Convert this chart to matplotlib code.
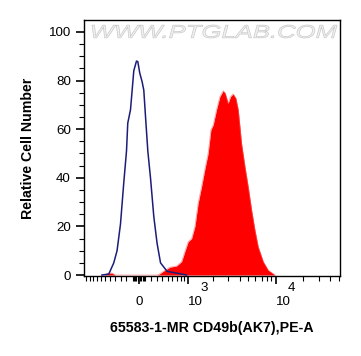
import numpy as np
import matplotlib
matplotlib.use('Agg')
import matplotlib.pyplot as plt
from matplotlib.textpath import TextPath
from matplotlib.patches import PathPatch
from matplotlib.font_manager import FontProperties
from matplotlib.transforms import Affine2D, IdentityTransform

plt.rcParams['font.family'] = 'Liberation Sans'

# Isotype control (blue outline), PE-A intensity vs relative count
ctrl_x = [-676, -525, -426, -364, -302, -245, -199, -178, -133, -80, -37, -16,
          16, 53, 80, 108, 145, 189, 245, 302, 364, 491, 697, 959]
ctrl_y = [0, 0.4, 5, 10, 21, 38, 51, 62.5, 68, 84, 88, 87.8,
          83, 79.5, 76, 65, 51, 40, 24, 13, 5, 1.5, 0.8, 0]

# CD49b stained sample (red filled)
stain_x = [-620, -540, -460, -400, 302, 351, 413, 547, 697, 823, 911, 1008, 1115,
           1227, 1342, 1470, 1605, 1764, 1900, 2018, 2205, 2410, 2626, 2765,
           2986, 3175, 3396, 3641, 3868, 4215, 4593, 4990, 5443, 5922, 6439,
           7321, 8303, 9847]
stain_y = [0, 0.8, 0.8, 0, 0, 0.5, 1.5, 3.2, 3.7, 5.5, 9.6, 13.7, 15,
           20, 29.5, 36, 43, 50, 59.7, 61.7, 68, 73.4, 75.8, 74.8,
           70.6, 73.4, 74.5, 72.7, 68, 54, 44.6, 36.3, 26.7, 18.5, 11.6,
           5.5, 2, 0]

xtick_vals = [0, 1000, 10000]
xtick_labels = ['0', '10', '10']
xtick_exps = ['', '3', '4']

W = 630.0


def fwd(x):
    return np.arcsinh(np.asarray(x, dtype=float) / W)


def inv(u):
    return W * np.sinh(np.asarray(u, dtype=float))


fig = plt.figure(figsize=(3.61, 3.56), dpi=100)
ax = fig.add_axes([84 / 361, 80 / 356, 256 / 361, 256 / 356])
ax.set_xscale('function', functions=(fwd, inv))

ax.fill_between(stain_x, stain_y, 0, color='#ff0000', linewidth=0, zorder=2)
ax.plot(stain_x, stain_y, color='#ff6060', linewidth=0.6, alpha=0.6, zorder=2)
ax.plot(ctrl_x, ctrl_y, color='#1c1c7a', linewidth=1.1, zorder=3)

ax.set_xlim(-1180, 51000)
ax.set_ylim(-0.4, 104.9)

# ticks
ax.set_xticks(xtick_vals)
ax.set_xticklabels(xtick_labels)
minor = ([-k * 100 for k in range(1, 12)] + [k * 100 for k in range(1, 10)] +
         [-80, -60, -40, -20, 20, 40, 60, 80] +
         [k * 1000 for k in range(2, 10)] + [k * 10000 for k in range(2, 6)])
ax.set_xticks(minor, minor=True)
ax.set_yticks(range(0, 101, 20))
ax.set_yticks([v for v in range(5, 101, 5) if v % 20], minor=True)

ax.tick_params(axis='both', which='major', length=6, width=1.2, labelsize=9.6,
               direction='out', color='black')
ax.tick_params(axis='both', which='minor', length=3.5, width=0.8, direction='out')
ax.tick_params(axis='x', which='major', pad=15)
for lab, e in zip(ax.get_xticklabels(), xtick_exps):
    lab.set_va('baseline')
    if e:
        lab.set_ha('left')
for v, e in zip(xtick_vals, xtick_exps):
    if e:
        ax.annotate(e, xy=(v, 0), xycoords=('data', 'axes fraction'),
                    xytext=(9.0, -4.5), textcoords='offset points',
                    ha='left', va='top', fontsize=9.6, annotation_clip=False)
for s in ax.spines.values():
    s.set_linewidth(1.0)

ax.set_ylabel('Relative Cell Number', fontsize=10.2, fontweight='bold', labelpad=10)
fig.text(212 / 361, 1 - 328 / 356, '65583-1-MR CD49b(AK7),PE-A', fontsize=10.2,
         fontweight='bold', ha='center', va='center')

# watermark
tp = TextPath((0, 0), 'WWW.PTGLAB.COM', size=18,
              prop=FontProperties(family='Liberation Sans', style='italic'))
ext = tp.get_extents()
x0, x1, y0, y1 = 92, 337, 356 - 38, 356 - 25
tr = (Affine2D().translate(-ext.x0, -ext.y0)
      .scale((x1 - x0) / ext.width, (y1 - y0) / ext.height).translate(x0, y0))
fig.patches.append(PathPatch(tr.transform_path(tp), transform=IdentityTransform(),
                             facecolor='#f0f0f0', edgecolor='#c8c8c8', linewidth=0.5,
                             figure=fig, zorder=5))

fig.savefig('out.png', dpi=100)
